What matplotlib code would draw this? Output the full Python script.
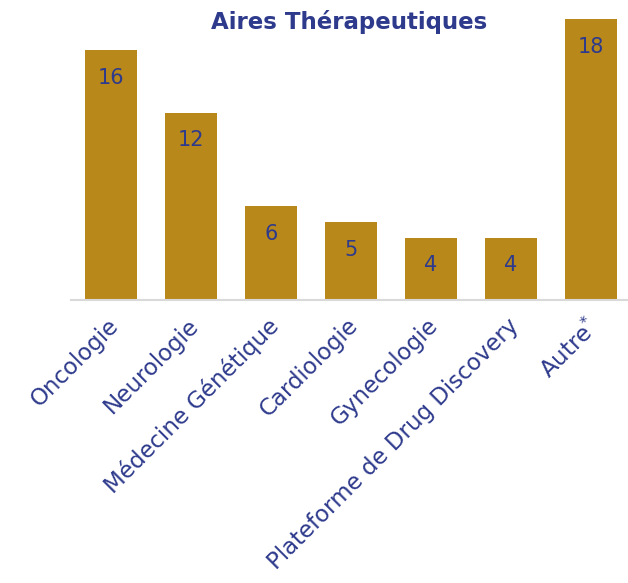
import matplotlib
matplotlib.use("Agg")
import matplotlib.pyplot as plt
import matplotlib.transforms as mtransforms

categories = ["Oncologie", "Neurologie", "Médecine Génétique", "Cardiologie",
              "Gynecologie", "Plateforme de Drug Discovery", "Autre$^{*}$"]
values = [16, 12, 6, 5, 4, 4, 18]
title = "Aires Thérapeutiques"

bar_color = "#B8881A"
text_color = "#2E3A8C"

fig = plt.figure(figsize=(6.28, 5.83), dpi=100)
ax = fig.add_axes([71/628, (583-300)/583, 560/628, 281/583])
x = list(range(len(categories)))
ax.bar(x, values, width=0.66, color=bar_color)
ax.set_xlim(-0.5, len(categories) - 0.5)
ax.set_ylim(0, 18)
for xi, v in zip(x, values):
    ax.annotate(str(v), (xi, v), xytext=(0, -20), textcoords="offset points",
                ha="center", va="center", fontsize=15, color=text_color,
                family="DejaVu Sans")
for s in ["top", "right", "left"]:
    ax.spines[s].set_visible(False)
ax.spines["bottom"].set_color("#D9D9D9")
ax.spines["bottom"].set_linewidth(1.5)
ax.set_yticks([])
ax.set_xticks(x)
ax.set_xticklabels(categories, rotation=45, ha="right", rotation_mode="anchor",
                   fontsize=16.5, color=text_color, family="DejaVu Sans")
ax.tick_params(axis="x", length=0, pad=10)
offset = mtransforms.ScaledTranslation(-3/72, 0, fig.dpi_scale_trans)
for lbl in ax.get_xticklabels():
    lbl.set_transform(lbl.get_transform() + offset)
fig.text(349/628, 1 - 22/583, title, ha="center", va="center", fontsize=16.5,
         fontweight="bold", color=text_color, family="DejaVu Sans")
fig.savefig("out.png", dpi=100)
